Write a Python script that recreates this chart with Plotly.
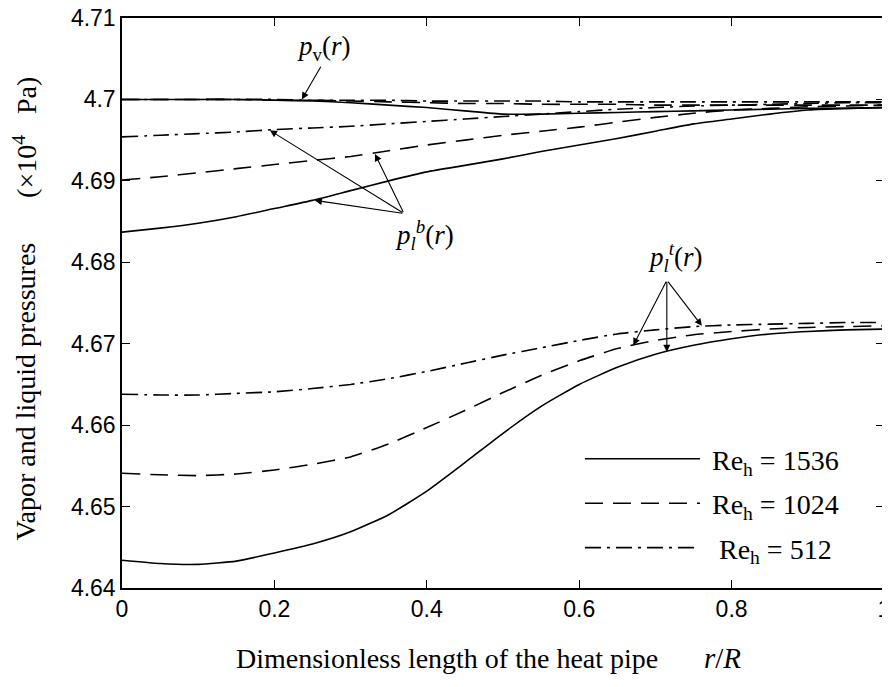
import plotly.graph_objects as go

# ---------------- data ----------------
r = [0.0, 0.05, 0.1, 0.15, 0.2, 0.25, 0.3, 0.35, 0.4, 0.45, 0.5,
     0.55, 0.6, 0.65, 0.7, 0.75, 0.8, 0.85, 0.9, 0.95, 1.0]

# vapor pressure p_v(r)
pv_1536 = [4.7000, 4.7000, 4.7000, 4.7000, 4.6999, 4.6998, 4.6996, 4.6993, 4.6990, 4.6986, 4.6982,
           4.6982, 4.6983, 4.6984, 4.6985, 4.6986, 4.6987, 4.6988, 4.6989, 4.6989, 4.6990]
pv_1024 = [4.7000, 4.7000, 4.7000, 4.7000, 4.6999, 4.6999, 4.6998, 4.6997, 4.6996, 4.6995, 4.6995,
           4.6994, 4.6994, 4.6994, 4.6993, 4.6993, 4.6993, 4.6993, 4.6993, 4.6993, 4.6993]
pv_512 = [4.7000, 4.7000, 4.7000, 4.7000, 4.7000, 4.6999, 4.6999, 4.6999, 4.6998, 4.6998, 4.6998,
          4.6998, 4.6997, 4.6997, 4.6997, 4.6997, 4.6997, 4.6997, 4.6997, 4.6997, 4.6997]

# liquid pressure at the bottom p_l^b(r)
pb_1536 = [4.6837, 4.6842, 4.6848, 4.6856, 4.6866, 4.6876, 4.6888, 4.6900, 4.6911, 4.6919, 4.6927,
           4.6936, 4.6944, 4.6952, 4.6961, 4.6970, 4.6976, 4.6982, 4.6987, 4.6989, 4.6990]
pb_1024 = [4.6901, 4.6905, 4.6910, 4.6915, 4.6920, 4.6925, 4.6930, 4.6937, 4.6944, 4.6950, 4.6956,
           4.6961, 4.6966, 4.6972, 4.6978, 4.6983, 4.6987, 4.6989, 4.6991, 4.6992, 4.6993]
pb_512 = [4.6954, 4.6956, 4.6958, 4.6960, 4.6963, 4.6965, 4.6967, 4.6970, 4.6973, 4.6976, 4.6979,
          4.6982, 4.6985, 4.6988, 4.6990, 4.6992, 4.6993, 4.6994, 4.6995, 4.6996, 4.6996]

# liquid pressure at the top p_l^t(r)
pt_1536 = [4.6434, 4.6430, 4.6429, 4.6433, 4.6443, 4.6454, 4.6469, 4.6490, 4.6519, 4.6554, 4.6590,
           4.6623, 4.6650, 4.6671, 4.6687, 4.6698, 4.6706, 4.6712, 4.6715, 4.6717, 4.6718]
pt_1024 = [4.6541, 4.6539, 4.6538, 4.6540, 4.6545, 4.6552, 4.6561, 4.6577, 4.6597, 4.6618, 4.6640,
           4.6661, 4.6679, 4.6694, 4.6704, 4.6711, 4.6715, 4.6718, 4.6720, 4.6721, 4.6722]
pt_512 = [4.6638, 4.6637, 4.6637, 4.6639, 4.6641, 4.6645, 4.6650, 4.6657, 4.6666, 4.6676, 4.6686,
          4.6695, 4.6704, 4.6712, 4.6717, 4.6721, 4.6723, 4.6724, 4.6725, 4.6726, 4.6726]

series_names = ["&nbsp;Re<sub>h</sub> = 1536", "&nbsp;Re<sub>h</sub> = 1024", "&nbsp;&nbsp;Re<sub>h</sub> = 512"]
x_ticks = [0, 0.2, 0.4, 0.6, 0.8, 1]
x_ticktext = ["0", "0.2", "0.4", "0.6", "0.8", "1"]
y_ticks = [4.64, 4.65, 4.66, 4.67, 4.68, 4.69, 4.70, 4.71]
y_ticktext = ["4.64", "4.65", "4.66", "4.67", "4.68", "4.69", "4.7", "4.71"]

# ---------------- figure ----------------
dashes = ["solid", "18px,10px", "16px,6px,3px,6px"]
groups = [(pv_1536, pb_1536, pt_1536), (pv_1024, pb_1024, pt_1024), (pv_512, pb_512, pt_512)]

fig = go.Figure()
for gi, (name, dash, curves) in enumerate(zip(series_names, dashes, groups)):
    for ci, yv in enumerate(curves):
        fig.add_trace(go.Scatter(
            x=r, y=yv, mode="lines", name=name,
            line=dict(color="black", width=1.6, dash=dash, shape="spline", smoothing=0.5),
            legendgroup=f"g{gi}", showlegend=(ci == 0),
        ))

serif = "Liberation Serif, Times New Roman, serif"
sans = "Liberation Sans, Arial, sans-serif"

ann = []
# curve labels
ann.append(dict(x=0.264, y=4.7063, xref="x", yref="y", showarrow=False,
                text="<i>p</i><sub>v</sub>(<i>r</i>)", font=dict(family=serif, size=27, color="black")))
ann.append(dict(x=0.397, y=4.6833, xref="x", yref="y", showarrow=False,
                text="<i>p</i><sub><i>l</i></sub><sup><i>b</i></sup>(<i>r</i>)",
                font=dict(family=serif, size=27, color="black")))
ann.append(dict(x=0.727, y=4.6806, xref="x", yref="y", showarrow=False,
                text="<i>p</i><sub><i>l</i></sub><sup><i>t</i></sup>(<i>r</i>)",
                font=dict(family=serif, size=27, color="black")))

def arrow(tip, tail):
    return dict(x=tip[0], y=tip[1], ax=tail[0], ay=tail[1], xref="x", yref="y",
                axref="x", ayref="y", text="", showarrow=True, arrowhead=2,
                arrowsize=1.3, arrowwidth=1.1, arrowcolor="black", standoff=0, startstandoff=0)

# p_v arrow
ann.append(arrow((0.236, 4.7000), (0.262, 4.7042)))
# p_l^b arrows
hub_b = (0.370, 4.6860)
ann.append(arrow((0.194, 4.6962), hub_b))
ann.append(arrow((0.332, 4.6933), hub_b))
ann.append(arrow((0.253, 4.6876), hub_b))
# p_l^t arrows
hub_t = (0.715, 4.6778)
ann.append(arrow((0.671, 4.6698), hub_t))
ann.append(arrow((0.715, 4.6690), hub_t))
ann.append(arrow((0.761, 4.6722), hub_t))

# axis titles (placed as annotations to match the original's placement)
ann.append(dict(x=0.147, y=-0.123, xref="paper", yref="paper", xanchor="left", yanchor="middle",
                showarrow=False, text="Dimensionless length of the heat pipe",
                font=dict(family=serif, size=28, color="black")))
ann.append(dict(x=0.788, y=-0.123, xref="paper", yref="paper", xanchor="center", yanchor="middle",
                showarrow=False, text="<i>r</i>/<i>R</i>",
                font=dict(family=serif, size=29, color="black")))
ann.append(dict(x=-0.127, y=0.345, xref="paper", yref="paper", xanchor="center", yanchor="middle",
                showarrow=False, textangle=-90, text="Vapor and liquid pressures",
                font=dict(family=serif, size=28, color="black")))
ann.append(dict(x=-0.127, y=0.790, xref="paper", yref="paper", xanchor="center", yanchor="middle",
                showarrow=False, textangle=-90, text="(×10<sup>4</sup>&nbsp;&nbsp;&nbsp;Pa)",
                font=dict(family=serif, size=28, color="black")))

fig.update_layout(
    width=882, height=679,
    margin=dict(l=114, r=6, t=10, b=99, autoexpand=False),
    paper_bgcolor="white", plot_bgcolor="white",
    showlegend=True,
    legend=dict(x=0.601, y=0.27, xanchor="left", yanchor="top",
                bgcolor="rgba(0,0,0,0)", borderwidth=0,
                font=dict(family=serif, size=28, color="black"),
                traceorder="grouped", tracegroupgap=5, itemwidth=115),
    annotations=ann,
    xaxis=dict(range=[0, 1], tickvals=x_ticks, ticktext=x_ticktext, automargin=False,
               showgrid=False, zeroline=False, showline=True, linecolor="black", linewidth=1.5,
               mirror="ticks", ticks="inside", ticklen=8, tickcolor="black", tickwidth=1.2,
               ticklabeloverflow="allow",
               tickfont=dict(family=sans, size=23, color="black")),
    yaxis=dict(range=[4.64, 4.71], tickvals=y_ticks, ticktext=y_ticktext, automargin=False,
               showgrid=False, zeroline=False, showline=True, linecolor="black", linewidth=1.5,
               mirror="ticks", ticks="inside", ticklen=8, tickcolor="black", tickwidth=1.2,
               ticklabeloverflow="allow",
               tickfont=dict(family=sans, size=23, color="black")),
)

fig.write_html("out.html")
